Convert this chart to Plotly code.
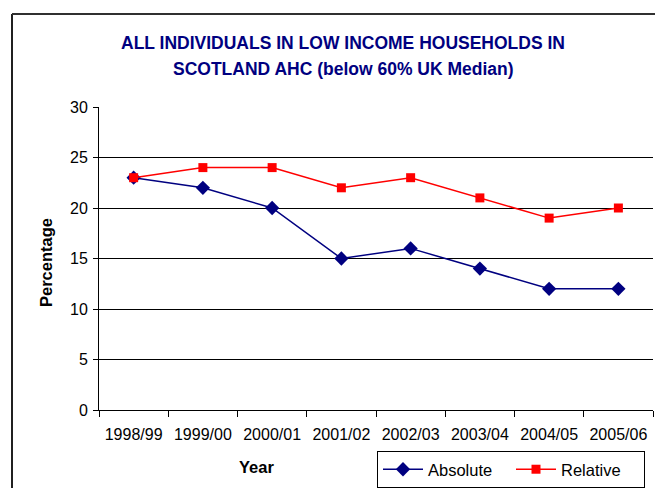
import plotly.graph_objects as go

years = ["1998/99", "1999/00", "2000/01", "2001/02", "2002/03", "2003/04", "2004/05", "2005/06"]
absolute = [23, 22, 20, 15, 16, 14, 12, 12]
relative = [23, 24, 24, 22, 23, 21, 19, 20]
y_ticks = [0, 5, 10, 15, 20, 25, 30]

FONT = "Arial, Liberation Sans, sans-serif"
W, H = 655, 488
L, R, T, B = 99, 2, 107, 78
PW, PH = W - L - R, H - T - B

def px(x):
    return (x - L) / PW

def py(y):
    return (H - B - y) / PH

fig = go.Figure()
fig.add_trace(go.Scatter(
    x=years, y=absolute, name="Absolute", mode="lines+markers",
    line=dict(color="#000080", width=1.5),
    marker=dict(symbol="diamond", size=11, color="#000080"),
))
fig.add_trace(go.Scatter(
    x=years, y=relative, name="Relative", mode="lines+markers",
    line=dict(color="#FF0000", width=1.5),
    marker=dict(symbol="square", size=9, color="#FF0000"),
))

fig.update_layout(
    width=W, height=H,
    margin=dict(l=L, r=R, t=T, b=B, pad=0, autoexpand=False),
    paper_bgcolor="white", plot_bgcolor="white",
    font=dict(family=FONT, color="black", size=16),
    showlegend=True,
    legend=dict(
        orientation="h", x=px(377), y=py(451), xanchor="left", yanchor="top",
        bordercolor="black", borderwidth=1, bgcolor="white",
        font=dict(size=16.5, family=FONT), itemwidth=40,
        entrywidth=78, entrywidthmode="pixels",
    ),
    xaxis=dict(
        type="category", range=[-0.5, 7.5], showgrid=False,
        showline=True, linecolor="black", linewidth=1,
        ticks="outside", tickson="boundaries", ticklen=6, tickcolor="black",
        tickfont=dict(size=16), tickangle=0, ticklabelstandoff=10,
        automargin=False, fixedrange=True,
    ),
    yaxis=dict(
        range=[0, 30], tickvals=y_ticks, showgrid=True, gridcolor="black", gridwidth=1,
        showline=True, linecolor="black", linewidth=1,
        ticks="outside", ticklen=5, tickcolor="black",
        tickfont=dict(size=16), zeroline=False, ticklabelstandoff=2, automargin=False,
    ),
    annotations=[
        dict(text="<b>ALL INDIVIDUALS IN LOW INCOME HOUSEHOLDS IN</b>", xref="paper", yref="paper",
             x=px(343), y=py(43), xanchor="center", yanchor="middle", showarrow=False,
             font=dict(size=17.5, color="#000080", family=FONT)),
        dict(text="<b>SCOTLAND AHC (below 60% UK Median)</b>", xref="paper", yref="paper",
             x=px(343), y=py(69), xanchor="center", yanchor="middle", showarrow=False,
             font=dict(size=17.5, color="#000080", family=FONT)),
        dict(text="<b>Percentage</b>", xref="paper", yref="paper",
             x=px(46), y=py(263), xanchor="center", yanchor="middle", showarrow=False,
             textangle=-90, font=dict(size=16.5, family=FONT)),
        dict(text="<b>Year</b>", xref="paper", yref="paper",
             x=px(256), y=py(467), xanchor="center", yanchor="middle", showarrow=False,
             font=dict(size=16.5, family=FONT)),
    ],
    shapes=[
        dict(type="line", xref="paper", yref="paper", x0=px(12), y0=py(H + 5), x1=px(12), y1=py(14),
             line=dict(color="#202020", width=2)),
        dict(type="line", xref="paper", yref="paper", x0=px(12), y0=py(14), x1=px(W + 5), y1=py(14),
             line=dict(color="#303030", width=2)),
    ],
)

fig.write_html("out.html")
